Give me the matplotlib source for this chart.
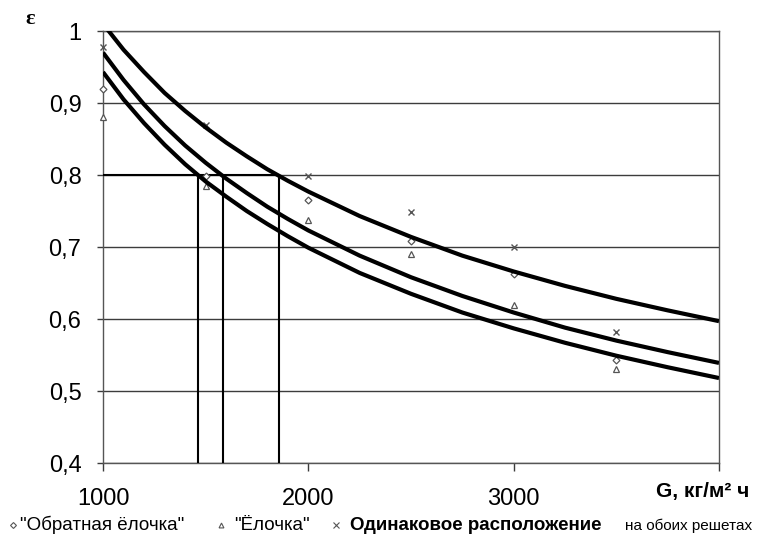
import numpy as np
import matplotlib
matplotlib.use("Agg")
import matplotlib.pyplot as plt

plt.rcParams['font.family'] = ['Liberation Sans', 'DejaVu Sans']

# measured points: mass velocity G and efficiency
g_points = [1000, 1500, 2000, 2500, 3000, 3500]
eps_reverse = [0.919, 0.798, 0.765, 0.709, 0.663, 0.543]   # "Обратная ёлочка"
eps_herring = [0.881, 0.785, 0.737, 0.690, 0.619, 0.530]   # "Ёлочка"
eps_same = [0.978, 0.869, 0.799, 0.748, 0.700, 0.582]      # одинаковое расположение

# approximating curves
g_curve = [1000, 1100, 1200, 1300, 1400, 1500, 1600, 1700, 1800, 1900, 2000,
           2250, 2500, 2750, 3000, 3250, 3500, 3750, 4000]
curve_upper = [1.010, 0.974, 0.943, 0.914, 0.889, 0.866, 0.845, 0.826, 0.808, 0.792, 0.777,
               0.743, 0.714, 0.688, 0.666, 0.646, 0.628, 0.612, 0.597]
curve_middle = [0.970, 0.932, 0.898, 0.868, 0.841, 0.817, 0.795, 0.775, 0.756, 0.739, 0.723,
                0.688, 0.658, 0.632, 0.609, 0.588, 0.570, 0.554, 0.539]
curve_lower = [0.943, 0.905, 0.872, 0.842, 0.815, 0.791, 0.770, 0.750, 0.732, 0.715, 0.699,
               0.664, 0.635, 0.609, 0.587, 0.567, 0.549, 0.533, 0.518]

# G values where the curves reach eps = 0.8
eps_level = 0.8
g_cross = [1465, 1585, 1855]

y_ticks = [0.4, 0.5, 0.6, 0.7, 0.8, 0.9, 1.0]
y_labels = ['0,4', '0,5', '0,6', '0,7', '0,8', '0,9', '1']
x_ticks = [1000, 2000, 3000, 4000]
x_labels = ['1000', '2000', '3000', '']

W, H = 757, 544
fig = plt.figure(figsize=(W / 100, H / 100), dpi=100)
ax = fig.add_axes([103 / W, 1 - 463 / H, (719 - 103) / W, (463 - 31) / H])

ax.set_xlim(1000, 4000)
ax.set_ylim(0.4, 1.0)

grid_c = '#3c3c3c'
ax.set_yticks(y_ticks)
ax.set_yticklabels(y_labels, fontsize=17)
ax.set_xticks(x_ticks)
ax.set_xticklabels(x_labels, fontsize=17)
ax.yaxis.grid(True, color=grid_c, lw=1)
ax.tick_params(axis='y', direction='out', length=4.5, width=1, color=grid_c, pad=11)
ax.tick_params(axis='x', direction='out', length=6, width=1, color=grid_c, pad=12)
for side in ax.spines.values():
    side.set_color('#555555')
    side.set_linewidth(1)

# guide lines for eps = 0.8
ax.vlines(g_cross, 0.4, eps_level, color='black', lw=1.5, zorder=3)
ax.hlines(eps_level, 1000, max(g_cross), color='black', lw=1.5, zorder=3)

# experimental points
mc = '#555555'
ax.plot(g_points, eps_reverse, linestyle='none', marker='D', ms=3.5, mfc='white',
        mec=mc, mew=0.9, zorder=4, clip_on=False)
ax.plot(g_points, eps_herring, linestyle='none', marker='^', ms=4.5, mfc='white',
        mec=mc, mew=0.9, zorder=4, clip_on=False)
ax.plot(g_points, eps_same, linestyle='none', marker='x', ms=5, color=mc,
        mew=1, zorder=4, clip_on=False)

# approximating curves
for curve in (curve_upper, curve_middle, curve_lower):
    ax.plot(g_curve, curve, color='black', lw=3, zorder=5,
            solid_capstyle='butt', solid_joinstyle='round')

# axis titles
fig.text(30 / W, 1 - 19 / H, 'ε', fontsize=16, fontweight='bold',
         family=['Liberation Serif', 'DejaVu Serif'], ha='center', va='center')
fig.text(703 / W, 1 - 491 / H, 'G, кг/м² ч', fontsize=15, fontweight='bold',
         ha='center', va='center')

# legend row under the axis
ly = 1 - 525 / H
base = 1 - 530 / H
fig.add_artist(plt.Line2D([13 / W], [ly], marker='D', ms=3, mfc='white', mec=mc,
                          mew=0.8, linestyle='none'))
fig.text(20 / W, base, '"Обратная ёлочка"', fontsize=13.5, ha='left', va='baseline')
fig.add_artist(plt.Line2D([221 / W], [ly], marker='^', ms=3.5, mfc='white', mec=mc,
                          mew=0.8, linestyle='none'))
fig.text(234 / W, base, '"Ёлочка"', fontsize=13.5, ha='left', va='baseline')
fig.add_artist(plt.Line2D([336 / W], [ly], marker='x', ms=4, color=mc,
                          mew=0.8, linestyle='none'))
fig.text(350 / W, base, 'Одинаковое расположение', fontsize=13.5, fontweight='bold',
         ha='left', va='baseline')
fig.text(625 / W, base, 'на обоих решетах', fontsize=11, ha='left', va='baseline')

fig.savefig('out.png', dpi=100, facecolor='white')
